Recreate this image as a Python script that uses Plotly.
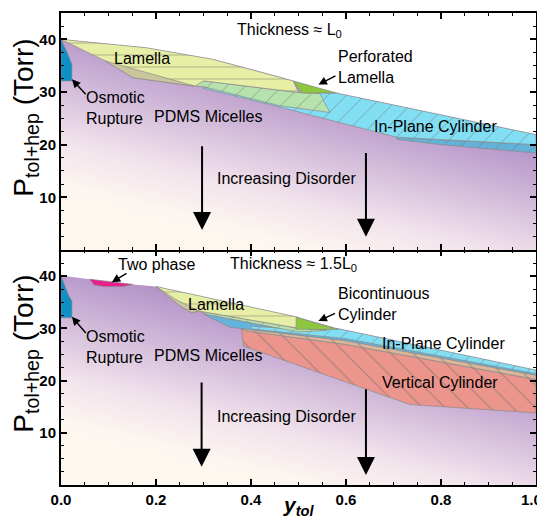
import numpy as np
import plotly.graph_objects as go

# ---------------- data ----------------
# Top panel: thickness ~ L0
top_bound_x = [0.0, 0.18, 0.32, 0.46, 0.489, 0.58, 1.0]
top_bound_y = [40.0, 38.4, 36.2, 32.9, 32.1, 29.8, 21.9]

top_osm_x = [0.0, 0.015, 0.023, 0.023, 0.0]
top_osm_y = [40.0, 37.1, 35.2, 32.1, 32.1]
top_lam_x = [0.0, 0.18, 0.32, 0.46, 0.489, 0.50, 0.30, 0.282, 0.152, 0.093]
top_lam_y = [40.0, 38.4, 36.2, 32.9, 32.1, 29.9, 32.1, 31.1, 32.7, 35.9]
top_tan_x = [0.093, 0.282, 0.152]
top_tan_y = [35.9, 31.1, 32.7]
top_green_x = [0.286, 0.30, 0.50, 0.545, 0.566, 0.46, 0.30, 0.286]
top_green_y = [31.9, 32.1, 29.9, 29.7, 26.1, 27.4, 31.0, 31.1]
top_perf_x = [0.489, 0.58, 0.507]
top_perf_y = [32.1, 29.8, 29.8]
top_cyl_x = [0.30, 0.50, 0.58, 1.0, 1.0, 0.80, 0.707, 0.44, 0.30]
top_cyl_y = [30.9, 29.9, 29.8, 21.9, 20.0, 20.9, 21.4, 27.6, 30.7]
top_band_x = [0.707, 0.80, 1.0, 1.0, 0.80, 0.707]
top_band_y = [21.4, 20.9, 20.0, 18.4, 20.0, 21.0]

# Bottom panel: thickness ~ 1.5 L0
bot_bound_x = [0.0, 0.06, 0.152, 0.2, 0.5, 0.585, 1.0]
bot_bound_y = [40.1, 39.4, 38.4, 38.0, 32.1, 29.9, 22.0]

bot_osm_x = [0.0, 0.015, 0.023, 0.023, 0.0]
bot_osm_y = [40.1, 36.5, 35.2, 32.0, 32.0]
bot_two_x = [0.06, 0.152, 0.13, 0.09, 0.07]
bot_two_y = [39.4, 38.4, 38.0, 38.0, 38.3]
bot_lam_x = [0.2, 0.5, 0.5, 0.29, 0.275, 0.25]
bot_lam_y = [38.0, 32.1, 30.0, 33.3, 33.0, 34.3]
bot_tan_x = [0.2, 0.25, 0.275, 0.29, 0.24]
bot_tan_y = [38.0, 34.3, 33.0, 33.3, 35.6]
bot_green_x = [0.29, 0.50, 0.56, 0.50, 0.31]
bot_green_y = [33.3, 30.0, 29.6, 29.3, 32.6]
bot_blue_x = [0.30, 0.31, 0.50, 0.60, 1.0, 1.0, 0.60, 0.38, 0.356]
bot_blue_y = [32.7, 32.6, 29.3, 28.4, 21.4, 21.0, 27.6, 29.9, 30.2]
bot_cyl_x = [0.40, 0.50, 0.585, 1.0, 1.0, 0.60, 0.40]
bot_cyl_y = [30.4, 29.8, 29.9, 22.0, 21.3, 28.0, 29.9]
bot_tanband_x = [0.38, 0.60, 1.0, 1.0, 0.60, 0.39]
bot_tanband_y = [30.0, 27.7, 21.1, 20.2, 26.9, 29.5]
bot_vert_x = [0.38, 0.39, 0.60, 1.0, 1.0, 0.735, 0.384]
bot_vert_y = [30.0, 29.5, 26.9, 20.2, 13.8, 15.4, 26.6]
bot_bic_x = [0.495, 0.584, 0.495]
bot_bic_y = [32.1, 29.8, 29.8]

x_ticks = [0.0, 0.2, 0.4, 0.6, 0.8, 1.0]
x_ticklabels = ["0.0", "0.2", "0.4", "0.6", "0.8", "1.0"]
y_ticks = [10, 20, 30, 40]

# ---------------- figure ----------------
FONT = "Liberation Sans, Arial, sans-serif"
EDGE = "#8a8a8a"
fig = go.Figure()


def gradient(xa, ya):
    gx = np.linspace(0, 1, 21)
    gy = np.linspace(0, 45, 21)
    X, Y = np.meshgrid(gx, gy)
    T = np.clip(0.75 * X + 1.3 * Y / 40 - 0.38, 0, 1)
    fig.add_trace(go.Heatmap(x=gx, y=gy, z=T, zmin=0, zmax=1, zsmooth="best",
                             colorscale=[[0, "#fdf7f0"], [0.3, "#f1e3ec"], [1, "#b493c8"]],
                             showscale=False, hoverinfo="skip", xaxis=xa, yaxis=ya))


def mask(bx, by, xa, ya):
    fig.add_trace(go.Scatter(x=[-0.01] + bx + [1.01, 1.01, -0.01], y=[by[0]] + by + [by[-1], 46, 46],
                             fill="toself", fillcolor="white", mode="none",
                             hoverinfo="skip", showlegend=False, xaxis=xa, yaxis=ya))


def poly(px, py, color, xa, ya, shape=None, size=13):
    kw = {}
    if shape:
        kw["fillpattern"] = dict(shape=shape, fgcolor="#6a6a6a", fgopacity=0.55,
                                 size=size, solidity=0.07, fillmode="overlay")
    fig.add_trace(go.Scatter(x=px + [px[0]], y=py + [py[0]], fill="toself", fillcolor=color,
                             mode="lines", line=dict(color=EDGE, width=0.7),
                             hoverinfo="skip", showlegend=False, xaxis=xa, yaxis=ya, **kw))


# top panel
gradient("x2", "y2")
mask(top_bound_x, top_bound_y, "x2", "y2")
poly(top_osm_x, top_osm_y, "#0f8fc6", "x2", "y2")
poly(top_band_x, top_band_y, "#62b2da", "x2", "y2", "/")
poly(top_cyl_x, top_cyl_y, "#82def2", "x2", "y2", "/")
poly(top_green_x, top_green_y, "#b6e2ae", "x2", "y2", "/")
poly(top_lam_x, top_lam_y, "#e7eea6", "x2", "y2", "-", 12)
poly(top_tan_x, top_tan_y, "#cbc59e", "x2", "y2")
poly(top_perf_x, top_perf_y, "#8dc63f", "x2", "y2")

# bottom panel
gradient("x", "y")
mask(bot_bound_x, bot_bound_y, "x", "y")
poly(bot_osm_x, bot_osm_y, "#0f8fc6", "x", "y")
poly(bot_two_x, bot_two_y, "#e8208c", "x", "y")
poly(bot_vert_x, bot_vert_y, "#eb958d", "x", "y", "\\", 16)
poly(bot_tanband_x, bot_tanband_y, "#ddb597", "x", "y", "\\", 16)
poly(bot_blue_x, bot_blue_y, "#62b4dc", "x", "y")
poly(bot_cyl_x, bot_cyl_y, "#82def2", "x", "y", "/")
poly(bot_green_x, bot_green_y, "#b6e2ae", "x", "y", "/")
poly(bot_lam_x, bot_lam_y, "#e7eea6", "x", "y", "-", 12)
poly(bot_tan_x, bot_tan_y, "#cbc59e", "x", "y")
poly(bot_bic_x, bot_bic_y, "#8dc63f", "x", "y")

# ---------------- annotations ----------------
ann = []


def text(t, x, y, xa, ya, xanchor="center", size=16):
    ann.append(dict(text=t, x=x, y=y, xref=xa, yref=ya, showarrow=False, xanchor=xanchor,
                    align="left", borderpad=0, font=dict(family=FONT, size=size, color="black")))


def arrow(x0, y0, x1, y1, xa, ya, head=2, width=1.4, hs=1.2):
    ann.append(dict(text="", x=x1, y=y1, ax=x0, ay=y0, xref=xa, yref=ya, axref=xa, ayref=ya,
                    showarrow=True, arrowhead=head, arrowwidth=width, arrowsize=hs,
                    arrowcolor="black"))


# top
text("Thickness ≈ L<sub>0</sub>", 0.48, 41.6, "x2", "y2")
text("Lamella", 0.171, 36.4, "x2", "y2")
text("Perforated<br>Lamella", 0.58, 34.7, "x2", "y2", "left")
text("Osmotic<br>Rupture", 0.05, 26.9, "x2", "y2", "left")
text("PDMS Micelles", 0.309, 25.3, "x2", "y2")
text("In-Plane Cylinder", 0.789, 23.4, "x2", "y2")
text("Increasing Disorder", 0.474, 13.5, "x2", "y2")
arrow(0.581, 33.2, 0.542, 31.4, "x2", "y2")
arrow(0.055, 29.3, 0.023, 32.4, "x2", "y2")
arrow(0.297, 20.0, 0.297, 3.8, "x2", "y2", 2, 2, 1.8)
arrow(0.642, 18.7, 0.642, 2.5, "x2", "y2", 2, 2, 1.8)

# bottom
text("Two phase", 0.20, 42.2, "x", "y")
text("Thickness ≈ 1.5L<sub>0</sub>", 0.49, 42.2, "x", "y")
text("Lamella", 0.326, 34.6, "x", "y")
text("Osmotic<br>Rupture", 0.05, 26.5, "x", "y", "left")
text("PDMS Micelles", 0.309, 24.7, "x", "y")
text("Bicontinuous<br>Cylinder", 0.58, 34.6, "x", "y", "left")
text("In-Plane Cylinder", 0.805, 27.1, "x", "y")
text("Vertical Cylinder", 0.797, 19.6, "x", "y")
text("Increasing Disorder", 0.474, 13.1, "x", "y")
arrow(0.141, 40.7, 0.107, 38.8, "x", "y")
arrow(0.055, 28.8, 0.023, 32.2, "x", "y")
arrow(0.58, 33.0, 0.542, 31.4, "x", "y")
arrow(0.296, 19.9, 0.296, 3.5, "x", "y", 2, 2, 1.8)
arrow(0.642, 18.6, 0.642, 1.9, "x", "y", 2, 2, 1.8)

# axis titles
for yc in (0.778, 0.278):
    ann.append(dict(text="P<sub>tol+hep</sub> (Torr)", x=-0.074, y=yc, xref="paper", yref="paper",
                    textangle=-90, showarrow=False, xanchor="center", yanchor="middle",
                    font=dict(family=FONT, size=28, color="black")))
ann.append(dict(text="<b><i>y</i></b><sub><b><i>tol</i></b></sub>", x=0.5, y=-0.045,
                xref="paper", yref="paper", showarrow=False, xanchor="center", yanchor="middle",
                font=dict(family=FONT, size=21, color="black")))

TICKFONT = dict(family=FONT, size=15, color="black", weight="bold")
# last x label: drawn as a label pinned to the right end so it stays inside the window
ann.append(dict(text=x_ticklabels[-1], x=x_ticks[-1], y=0, xref="x", yref="paper",
                xanchor="right", yanchor="top", xshift=8, yshift=-4, showarrow=False,
                font=TICKFONT))

axis_common = dict(showline=True, linewidth=2, linecolor="black", mirror="ticks",
                   ticks="inside", ticklen=6, tickwidth=2, tickcolor="black",
                   showgrid=False, zeroline=False, automargin=False,
                   ticklabeloverflow="allow", tickfont=TICKFONT)

# the page body adds an 8px margin, so the figure is sized to fit the 545x522 window
fig.update_layout(
    width=537, height=514,
    margin=dict(l=53, r=9, t=5, b=37),
    paper_bgcolor="white", plot_bgcolor="white",
    showlegend=False,
    annotations=ann,
    xaxis=dict(domain=[0, 1], anchor="y", range=[0, 1], tickvals=x_ticks[:-1],
               ticktext=x_ticklabels[:-1],
               minor=dict(ticks="inside", dtick=0.05, ticklen=3, tickcolor="black", tickwidth=1),
               **axis_common),
    yaxis=dict(domain=[0, 0.498], anchor="x", range=[0, 45], tickvals=y_ticks,
               minor=dict(ticks="inside", dtick=2.5, ticklen=3, tickcolor="black", tickwidth=1),
               **axis_common),
    xaxis2=dict(domain=[0, 1], anchor="y2", range=[0, 1], matches="x", tickvals=x_ticks,
                showticklabels=False,
                minor=dict(ticks="inside", dtick=0.05, ticklen=3, tickcolor="black", tickwidth=1),
                **axis_common),
    yaxis2=dict(domain=[0.498, 1], anchor="x2", range=[0, 45], tickvals=y_ticks,
                minor=dict(ticks="inside", dtick=2.5, ticklen=3, tickcolor="black", tickwidth=1),
                **axis_common),
)

fig.write_html("out.html")
